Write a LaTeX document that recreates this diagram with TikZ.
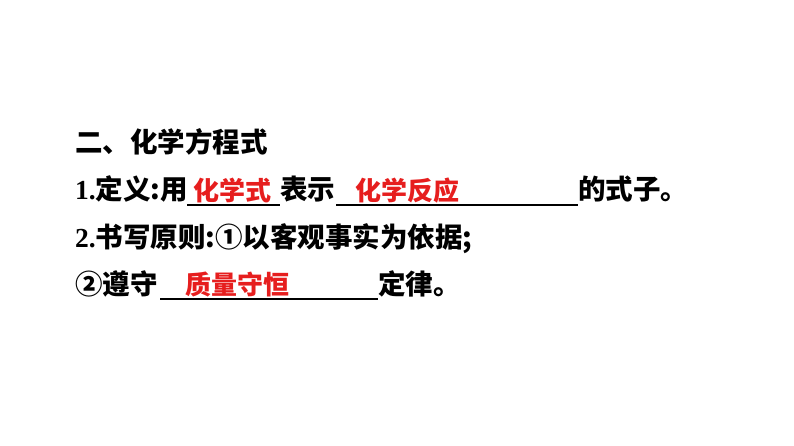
\documentclass[tikz,border=0pt]{standalone}
\usepackage{fontspec}
\setmainfont{Liberation Serif}
\newfontfamily\cjk{Noto Sans CJK SC}
\definecolor{myred}{RGB}{230,30,30}
\begin{document}
\begin{tikzpicture}[x=1pt,y=1pt,
  txt/.style={anchor=base west,inner sep=0pt,font=\fontsize{27.5}{30}\selectfont\bfseries},
  red/.style={txt,text=myred,font=\fontsize{26}{30}\selectfont\cjk\bfseries},
  ul/.style={line width=1.2pt}]
\useasboundingbox (0,0) rectangle (794,446);
\node[txt] (l1) at (75,446-153) {\cjk 二、化学方程式};
\node[txt] (l2a) at (75,446-200) {1.\cjk 定义:用};
\node[txt] (l2b) at (280,446-200) {\cjk 表示};
\node[txt] (l2c) at (578,446-200) {\cjk 的式子。};
\coordinate (u1s) at (187,446-205); \coordinate (u1e) at (280,446-205);
\coordinate (u2s) at (336,446-205); \coordinate (u2e) at (578,446-205);
\draw[ul] (u1s) -- (u1e); \draw[ul] (u2s) -- (u2e);
\node[red] (r1) at (193,446-201) {化学式};
\node[red] (r2) at (355,446-201) {化学反应};
\node[txt] (l3) at (75,446-248) {2.\cjk 书写原则:①以客观事实为依据;};
\node[txt] (l4a) at (75,446-295) {\cjk ②遵守};
\node[txt] (l4b) at (378,446-295) {\cjk 定律。};
\coordinate (u3s) at (160,446-299); \coordinate (u3e) at (378,446-299);
\draw[ul] (u3s) -- (u3e);
\node[red] (r3) at (185,446-295) {质量守恒};
\end{tikzpicture}
\end{document}
